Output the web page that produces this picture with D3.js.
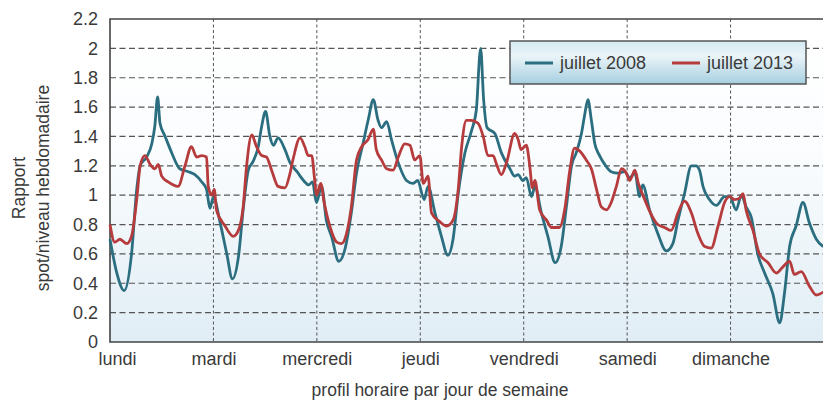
<!DOCTYPE html>
<html>
<head>
<meta charset="utf-8">
<script src="https://cdn.jsdelivr.net/npm/d3@7"></script>
<style>
  body { margin: 0; background: #fff; }
  svg { display: block; font-family: 'Liberation Sans', Arial, sans-serif; }
</style>
</head>
<body>
<svg id="chart" width="823" height="401"></svg>
<script>
// hourly profile over the week (hour 0 = lundi 0h)
const dayLabels = ['lundi', 'mardi', 'mercredi', 'jeudi', 'vendredi', 'samedi', 'dimanche']
const dayStarts = [0, 24, 48, 72, 96, 120, 144]
const yTicks = [0, 0.2, 0.4, 0.6, 0.8, 1, 1.2, 1.4, 1.6, 1.8, 2, 2.2]

const hours2008 = [0, 1.5, 3.3, 5, 6.2, 7, 8.5, 9.7, 10.4, 11.05, 11.6, 12.8, 14.3, 16.2, 18.2, 19.7, 21.3, 22.4, 23.2, 24,
  25.5, 27.1, 28.4, 29.8, 30.9, 32.1, 33.2, 34.4, 35.2, 36.1, 37.1, 37.9, 39, 40.6, 41.8, 43.4, 44.9, 46.1, 47, 47.9,
  49.1, 50.2, 51.4, 53.1, 54.5, 56, 57.2, 58.7, 59.9, 61.1, 62.2, 63, 64.2, 65.3, 66.9, 68.8, 70.3, 71.4, 72.9, 73.8,
  75.4, 76.9, 78.4, 79.6, 80.8, 82.3, 83.9, 85, 86, 86.7, 87.5, 89.3, 90.8, 92.8, 93.9, 94.7, 95.8, 96.6, 97.8, 98.6,
  100.1, 101.6, 103.3, 104.7, 105.9, 107.1, 108.2, 109.4, 110.1, 110.9, 111.7, 112.5, 113.6, 114.8, 116.3, 117.9, 119.4, 120.6, 121.8, 122.9,
  123.6, 125.2, 127.1, 129.1, 130.6, 131.8, 133.3, 134.9, 136, 136.8, 137.6, 139.1, 140.7, 142.6, 143.8, 145.3, 146.5, 147.6, 148.8, 150.3,
  151.9, 153.8, 155.4, 156.5, 157.7, 159.2, 160.8, 162.3, 163.9, 165.5]
const values2008 = [0.70, 0.48, 0.35, 0.60, 1.04, 1.20, 1.26, 1.35, 1.47, 1.67, 1.49, 1.40, 1.29, 1.18, 1.16, 1.14, 1.09, 1.04, 0.91, 0.99,
  0.82, 0.60, 0.43, 0.58, 0.90, 1.17, 1.23, 1.33, 1.47, 1.57, 1.40, 1.34, 1.39, 1.31, 1.22, 1.16, 1.10, 1.07, 1.09, 0.95,
  1.06, 0.83, 0.72, 0.55, 0.63, 0.88, 1.15, 1.35, 1.51, 1.65, 1.51, 1.46, 1.50, 1.38, 1.22, 1.10, 1.08, 1.10, 0.97, 1.06,
  0.88, 0.72, 0.59, 0.70, 1.01, 1.28, 1.44, 1.58, 2.00, 1.65, 1.46, 1.42, 1.29, 1.18, 1.13, 1.14, 1.10, 1.12, 0.99, 1.06,
  0.88, 0.72, 0.54, 0.65, 0.92, 1.20, 1.29, 1.42, 1.54, 1.65, 1.51, 1.35, 1.27, 1.21, 1.16, 1.15, 1.16, 1.12, 1.15, 0.99,
  1.07, 0.90, 0.74, 0.62, 0.67, 0.83, 1.01, 1.20, 1.20, 1.17, 1.06, 0.97, 0.93, 0.99, 0.99, 0.90, 1.00, 0.92, 0.85, 0.60,
  0.47, 0.33, 0.13, 0.33, 0.65, 0.79, 0.95, 0.81, 0.70, 0.65]

const hours2013 = [0, 1.1, 2.3, 3.9, 5, 6.2, 7, 8.1, 9.3, 10.4, 11.2, 12, 13.5, 15.8, 17.4, 18.9, 20.1, 21.3, 22.4, 22.8,
  23.6, 24.2, 24.7, 26.7, 28.6, 29.8, 30.9, 31.7, 32.9, 34, 35.2, 36.3, 37.5, 39, 40.6, 41.7, 42.6, 44.1, 45.2, 46,
  46.8, 47.5, 47.9, 48.9, 49.7, 51, 52.6, 53.7, 54.9, 56, 57.2, 58.4, 59.9, 61.1, 61.8, 63, 64.2, 65.7, 66.9, 68.4,
  69.6, 70.7, 71.9, 72.7, 73.8, 74.6, 76.5, 78.1, 79.6, 80.8, 81.6, 82.7, 83.8, 85.4, 86.6, 87.7, 88.9, 89.7, 90.8, 92,
  93.9, 94.7, 95.4, 96.6, 97.4, 98, 98.6, 99.7, 101.3, 102.4, 104.3, 105.5, 106.7, 107.8, 109, 110.5, 111.7, 112.9, 114, 115.2,
  116.3, 117.5, 118.7, 119.8, 120.6, 121.8, 122.6, 123.8, 125.4, 127.1, 128.7, 130.2, 131.8, 133.3, 134.9, 136.4, 138, 139.5, 141.1, 142.6,
  143.8, 144.9, 146.1, 146.9, 147.6, 149.2, 150.7, 152.7, 154.6, 156.1, 157.7, 158.8, 160.4, 162.3, 163.9, 165.5]
const values2013 = [0.80, 0.68, 0.70, 0.67, 0.72, 0.97, 1.20, 1.27, 1.21, 1.18, 1.21, 1.13, 1.09, 1.06, 1.20, 1.33, 1.26, 1.27, 1.26, 1.06,
  1.00, 1.04, 0.90, 0.79, 0.72, 0.76, 0.92, 1.20, 1.41, 1.33, 1.27, 1.26, 1.17, 1.06, 1.05, 1.14, 1.26, 1.39, 1.33, 1.27,
  1.27, 1.10, 1.00, 1.08, 0.95, 0.79, 0.68, 0.67, 0.74, 0.92, 1.24, 1.33, 1.38, 1.45, 1.31, 1.24, 1.18, 1.17, 1.26, 1.35,
  1.34, 1.24, 1.27, 1.08, 1.13, 0.88, 0.82, 0.79, 0.83, 1.04, 1.33, 1.51, 1.51, 1.49, 1.40, 1.27, 1.27, 1.21, 1.14, 1.22,
  1.42, 1.38, 1.31, 1.34, 1.20, 1.05, 1.10, 0.90, 0.83, 0.78, 0.78, 0.90, 1.17, 1.32, 1.30, 1.24, 1.18, 1.04, 0.92, 0.90,
  0.95, 1.06, 1.18, 1.15, 1.10, 1.17, 1.08, 0.99, 0.88, 0.80, 0.78, 0.76, 0.88, 0.96, 0.88, 0.74, 0.65, 0.64, 0.79, 0.95,
  0.99, 0.97, 0.98, 1.01, 0.90, 0.76, 0.60, 0.54, 0.47, 0.51, 0.55, 0.46, 0.48, 0.38, 0.32, 0.34]

const seriesNames = ['juillet 2008', 'juillet 2013']
const seriesColors = ['#2b6e80', '#b63b3c']

const svg = d3.select('#chart')
const width = 823
const font = "'Liberation Sans', Arial, sans-serif"
const margin = { left: 110, top: 19, bottom: 59 }
const plotRight = 834 // the week runs past the picture's right edge
const innerHeight = 401 - margin.top - margin.bottom

const xScale = d3.scaleLinear().domain([0, 168]).range([margin.left, plotRight])
const yScale = d3.scaleLinear().domain([0, 2.2]).range([margin.top + innerHeight, margin.top])

const defs = svg.append('defs')
const bg = defs.append('linearGradient').attr('id', 'bg').attr('x1', 0).attr('y1', 0).attr('x2', 0).attr('y2', 1)
bg.append('stop').attr('offset', '0%').attr('stop-color', '#ffffff')
bg.append('stop').attr('offset', '40%').attr('stop-color', '#fbfdfe')
bg.append('stop').attr('offset', '100%').attr('stop-color', '#e0edf5')
const lg = defs.append('linearGradient').attr('id', 'legend-bg').attr('x1', 0).attr('y1', 0).attr('x2', 0).attr('y2', 1)
lg.append('stop').attr('offset', '0%').attr('stop-color', '#d4e9f2')
lg.append('stop').attr('offset', '35%').attr('stop-color', '#eaf4f8')
lg.append('stop').attr('offset', '100%').attr('stop-color', '#a6cfe0')

svg.append('rect')
  .attr('x', margin.left).attr('y', margin.top)
  .attr('width', plotRight - margin.left).attr('height', innerHeight)
  .attr('fill', 'url(#bg)')

// grid
svg.append('g').selectAll('line')
  .data(yTicks.filter(d => d > 0 && d < 2.2))
  .join('line')
  .attr('x1', margin.left).attr('x2', width)
  .attr('y1', d => yScale(d)).attr('y2', d => yScale(d))
  .attr('stroke', '#555').attr('stroke-width', 1.2).attr('stroke-dasharray', '6,3.5')

svg.append('g').selectAll('line')
  .data(dayStarts.slice(1))
  .join('line')
  .attr('x1', d => xScale(d)).attr('x2', d => xScale(d))
  .attr('y1', margin.top).attr('y2', margin.top + innerHeight)
  .attr('stroke', '#555').attr('stroke-width', 1).attr('stroke-dasharray', '3,2.5')

// frame
svg.append('path')
  .attr('d', `M${width},${margin.top}H${margin.left}V${margin.top + innerHeight}H${width}`)
  .attr('fill', 'none').attr('stroke', '#444').attr('stroke-width', 1.6)

// series
const line = d3.line().x(d => xScale(d[0])).y(d => yScale(d[1])).curve(d3.curveMonotoneX)
const series = [
  d3.zip(hours2008, values2008),
  d3.zip(hours2013, values2013)
]
svg.append('g').selectAll('path')
  .data(series)
  .join('path')
  .attr('d', line)
  .attr('fill', 'none')
  .attr('stroke', (d, i) => seriesColors[i])
  .attr('stroke-width', 2.8)
  .attr('stroke-linejoin', 'round')

// axes
const yAxis = d3.axisLeft(yScale).tickValues(yTicks).tickFormat(d => d3.format('~g')(d)).tickSize(0).tickPadding(12)
svg.append('g')
  .attr('transform', `translate(${margin.left},0)`)
  .call(yAxis)
  .attr('font-size', 18).attr('font-family', font)
  .call(g => g.select('.domain').remove())
  .selectAll('text')
  .attr('fill', '#3a3a3a')

const xAxis = d3.axisBottom(xScale).tickValues(dayStarts).tickFormat((d, i) => dayLabels[i]).tickSize(0).tickPadding(10)
svg.append('g')
  .attr('transform', `translate(0,${margin.top + innerHeight})`)
  .call(xAxis)
  .attr('font-size', 18).attr('font-family', font)
  .call(g => g.select('.domain').remove())
  .selectAll('text')
  .attr('fill', '#3a3a3a')
  .attr('dx', (d, i) => (i === 0 ? 7 : 0))

svg.append('text')
  .attr('x', 440).attr('y', 396)
  .attr('text-anchor', 'middle')
  .attr('font-size', 17.5).attr('fill', '#3a3a3a')
  .text('profil horaire par jour de semaine')

const yTitle = svg.append('text')
  .attr('transform', 'translate(0,188) rotate(-90)')
  .attr('text-anchor', 'middle')
  .attr('font-size', 17.5).attr('fill', '#3a3a3a')
yTitle.append('tspan').attr('x', 0).attr('y', 25).text('Rapport')
yTitle.append('tspan').attr('x', 0).attr('y', 49).text('spot/niveau hebdomadaire')

// legend
const legend = svg.append('g').attr('transform', 'translate(510,41)')
legend.append('rect')
  .attr('width', 296).attr('height', 43)
  .attr('fill', 'url(#legend-bg)')
  .attr('stroke', '#555').attr('stroke-width', 1.5)
const items = legend.selectAll('g.item')
  .data(seriesNames)
  .join('g')
  .attr('class', 'item')
  .attr('transform', (d, i) => `translate(${15 + i * 147},22)`)
items.append('line')
  .attr('x1', 0).attr('x2', 28)
  .attr('stroke', (d, i) => seriesColors[i]).attr('stroke-width', 3)
items.append('text')
  .attr('x', 35).attr('dy', '0.35em')
  .attr('font-size', 18).attr('fill', '#3a3a3a')
  .text(d => d)
</script>
</body>
</html>
